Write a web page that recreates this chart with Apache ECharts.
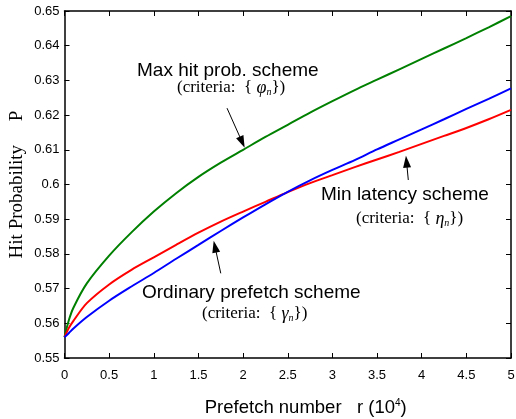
<!DOCTYPE html>
<html>
<head>
<meta charset="utf-8">
<script src="https://cdn.jsdelivr.net/npm/echarts@6/dist/echarts.min.js"></script>
<style>
html, body { margin: 0; padding: 0; background: #fff; }
#chart { width: 516px; height: 419px; }
</style>
</head>
<body>
<div id="chart"></div>
<script>
// prefetch number r (x 10^4)
var prefetch = [0, 0.05, 0.1, 0.25, 0.5, 0.75, 1, 1.25, 1.5, 1.75, 2, 2.25, 2.5, 2.75, 3, 3.25, 3.5, 3.75, 4, 4.25, 4.5, 4.75, 5];
// hit probability
var maxHitProb = [0.556, 0.561, 0.5645, 0.5715, 0.5795, 0.5862, 0.5922, 0.5975, 0.6022, 0.6063, 0.610, 0.6137, 0.6172, 0.6207, 0.624, 0.6272, 0.6302, 0.6332, 0.6362, 0.6392, 0.6422, 0.6453, 0.6485];
var minLatency = [0.556, 0.5587, 0.5607, 0.5658, 0.5712, 0.5754, 0.579, 0.5826, 0.5861, 0.5893, 0.5922, 0.595, 0.5978, 0.6004, 0.6027, 0.605, 0.6072, 0.6094, 0.6117, 0.614, 0.6163, 0.6188, 0.6215];
var ordinary = [0.556, 0.5572, 0.5585, 0.5618, 0.5665, 0.5706, 0.5745, 0.5786, 0.5826, 0.5866, 0.5905, 0.5943, 0.5979, 0.6012, 0.6042, 0.607, 0.6101, 0.613, 0.6159, 0.6188, 0.6218, 0.6247, 0.6277];

var sansFont = '"Liberation Sans", Arial, sans-serif';
var serifFont = '"Liberation Serif", "Times New Roman", serif';

function pairs(ys) {
    return prefetch.map(function (x, i) { return [x, ys[i]]; });
}

var myChart = echarts.init(document.getElementById('chart'), null, { renderer: 'canvas' });

var crit = {
    g: { fontFamily: serifFont, fontStyle: 'italic', fontSize: 18, fill: '#000' },
    s: { fontFamily: serifFont, fontStyle: 'italic', fontSize: 10, fill: '#000', padding: [8, 0, 0, 0] }
};

function arrowLine(from, to) {
    return {
        type: 'line',
        silent: true,
        symbol: ['none', 'triangle'],
        symbolSize: [8, 12],
        lineStyle: { color: '#000', width: 1, type: 'solid' },
        label: { show: false },
        data: [[{ coord: from }, { coord: to }]]
    };
}

var axisCommon = {
    type: 'value',
    axisLine: { show: true, onZero: false, lineStyle: { color: '#000', width: 1.5 } },
    axisTick: { show: true, inside: true, length: 5, lineStyle: { color: '#000', width: 1 } },
    splitLine: { show: false }
};

var option = {
    animation: false,
    backgroundColor: '#fff',
    grid: { left: 64.5, right: 5, top: 11, bottom: 61, outerBoundsMode: 'none', containLabel: false },
    xAxis: [
        Object.assign({}, axisCommon, {
            min: 0, max: 5, interval: 0.5,
            position: 'bottom',
            name: 'Prefetch number   r (10{sup|4})',
            nameLocation: 'middle',
            nameGap: 40,
            nameMoveOverlap: false,
            nameTextStyle: {
                fontFamily: sansFont, fontSize: 18.5, color: '#000',
                padding: [0, 0, 0, 36],
                rich: { sup: { fontFamily: sansFont, fontSize: 10, color: '#000', padding: [0, 0, 10, 0] } }
            },
            axisLabel: { fontFamily: sansFont, fontSize: 13, color: '#000', margin: 11 }
        }),
        Object.assign({}, axisCommon, {
            min: 0, max: 5, interval: 0.5,
            position: 'top',
            axisLabel: { show: false }
        })
    ],
    yAxis: [
        Object.assign({}, axisCommon, {
            min: 0.55, max: 0.65, interval: 0.01,
            position: 'left',
            name: 'Hit Probability     P',
            nameLocation: 'middle',
            nameGap: 38,
            nameMoveOverlap: false,
            nameTextStyle: { fontFamily: serifFont, fontSize: 19, color: '#000' },
            axisLabel: { fontFamily: sansFont, fontSize: 13, color: '#000', margin: 5 }
        }),
        Object.assign({}, axisCommon, {
            min: 0.55, max: 0.65, interval: 0.01,
            position: 'right',
            axisLabel: { show: false }
        })
    ],
    graphic: [
        { type: 'text', left: 137, top: 61, style: { text: 'Max hit prob. scheme', font: '19px ' + sansFont, fill: '#000' } },
        { type: 'text', left: 177, top: 79, style: { text: '(criteria:  { {g|φ}{s|n}})', font: '17px ' + serifFont, fill: '#000', rich: crit } },
        { type: 'text', left: 321, top: 185, style: { text: 'Min latency scheme', font: '19px ' + sansFont, fill: '#000' } },
        { type: 'text', left: 356, top: 210, style: { text: '(criteria:  { {g|η}{s|n}})', font: '17px ' + serifFont, fill: '#000', rich: crit } },
        { type: 'text', left: 142, top: 283, style: { text: 'Ordinary prefetch scheme', font: '19px ' + sansFont, fill: '#000' } },
        { type: 'text', left: 202, top: 305, style: { text: '(criteria:  { {g|γ}{s|n}})', font: '17px ' + serifFont, fill: '#000', rich: crit } }
    ],
    series: [
        {
            name: 'Max hit prob. scheme',
            type: 'line',
            data: pairs(maxHitProb),
            showSymbol: false,
            smooth: 0.3,
            lineStyle: { color: '#008000', width: 2 },
            markLine: arrowLine([1.82, 0.622], [1.99, 0.6122])
        },
        {
            name: 'Min latency scheme',
            type: 'line',
            data: pairs(minLatency),
            showSymbol: false,
            smooth: 0.3,
            lineStyle: { color: '#ff0000', width: 2 },
            markLine: arrowLine([3.85, 0.6013], [3.83, 0.6066])
        },
        {
            name: 'Ordinary prefetch scheme',
            type: 'line',
            data: pairs(ordinary),
            showSymbol: false,
            smooth: 0.3,
            lineStyle: { color: '#0000ff', width: 2 },
            markLine: arrowLine([1.75, 0.5744], [1.685, 0.5821])
        }
    ]
};

myChart.setOption(option);
</script>
</body>
</html>
